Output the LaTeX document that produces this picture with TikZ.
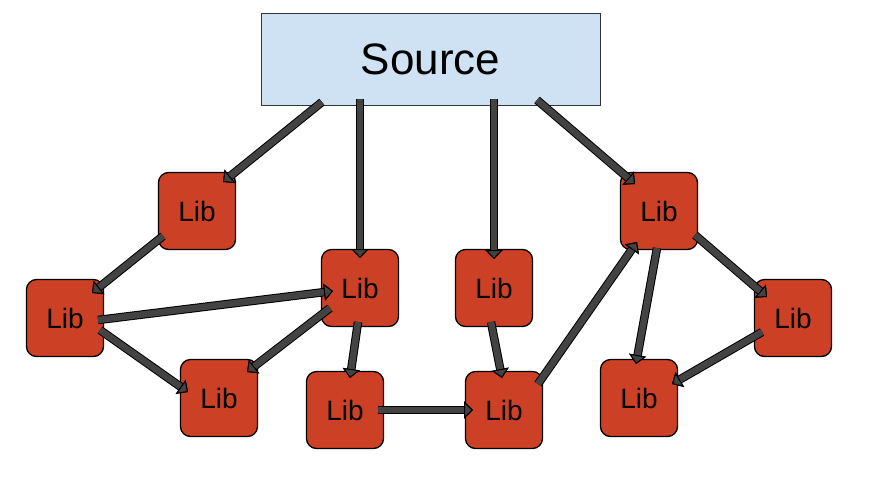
\documentclass[tikz,border=0pt]{standalone}
\usepackage{fontspec}
\setmainfont{Liberation Sans}
\usetikzlibrary{arrows.meta}
\definecolor{libred}{HTML}{CC4125}
\definecolor{srcblue}{HTML}{CFE2F3}
\definecolor{arrgray}{HTML}{434343}
\begin{document}
\begin{tikzpicture}[x=1pt,y=-1pt,
  lib/.style={draw=black, line width=1.3pt, fill=libred, rounded corners=10pt,
    minimum width=77pt, minimum height=77pt, inner sep=0pt,
    font=\fontsize{28}{28}\selectfont},
  src/.style={draw=black!80, line width=1pt, fill=srcblue,
    minimum width=339pt, minimum height=92pt, inner sep=0pt,
    font=\fontsize{44}{44}\selectfont},
  arr/.style={draw=arrgray, line width=6.5pt,
    -{Triangle[length=9pt,width=17pt,fill=arrgray,color=black,line width=1pt]},
    preaction={draw=black, line width=8.5pt, -{Triangle[length=9pt,width=17pt]}}}]
\useasboundingbox (0,0) rectangle (884,483);
\node[src] (src) at (430.5,59) {Source};
\node[lib] (l1) at (197,211) {Lib};
\node[lib] (l2) at (65,318) {Lib};
\node[lib] (l3) at (360,288) {Lib};
\node[lib] (l4) at (219,398) {Lib};
\node[lib] (l5) at (345,410) {Lib};
\node[lib] (l6) at (494,288) {Lib};
\node[lib] (l7) at (504,410) {Lib};
\node[lib] (l8) at (659,211) {Lib};
\node[lib] (l9) at (793,318) {Lib};
\node[lib] (l10) at (639,398) {Lib};
\draw[arr] ([shift={(-108.5,43)}]src.center) -- ([shift={(26,-29)}]l1.center);
\draw[arr] ([shift={(-70.5,40)}]src.center) -- ([shift={(0,-30)}]l3.center);
\draw[arr] ([shift={(63.5,40)}]src.center) -- ([shift={(0,-29)}]l6.center);
\draw[arr] ([shift={(106.5,41)}]src.center) -- ([shift={(-24,-27)}]l8.center);
\draw[arr] ([shift={(-34,25)}]l1.center) -- ([shift={(27,-25)}]l2.center);
\draw[arr] ([shift={(33,2)}]l2.center) -- ([shift={(-27,3)}]l3.center);
\draw[arr] ([shift={(35,12)}]l2.center) -- ([shift={(-31,-6)}]l4.center);
\draw[arr] ([shift={(-30,20)}]l3.center) -- ([shift={(28,-26)}]l4.center);
\draw[arr] ([shift={(-2,34)}]l3.center) -- ([shift={(5,-32)}]l5.center);
\draw[arr] ([shift={(33,0)}]l5.center) -- ([shift={(-31,0)}]l7.center);
\draw[arr] ([shift={(-3,34)}]l6.center) -- ([shift={(-2,-32)}]l7.center);
\draw[arr] ([shift={(34,-26)}]l7.center) -- ([shift={(-22,31)}]l8.center);
\draw[arr] ([shift={(-2,37)}]l8.center) -- ([shift={(-3,-34)}]l10.center);
\draw[arr] ([shift={(36,24)}]l8.center) -- ([shift={(-26,-21)}]l9.center);
\draw[arr] ([shift={(-31,14)}]l9.center) -- ([shift={(33,-14)}]l10.center);
\end{tikzpicture}
\end{document}
